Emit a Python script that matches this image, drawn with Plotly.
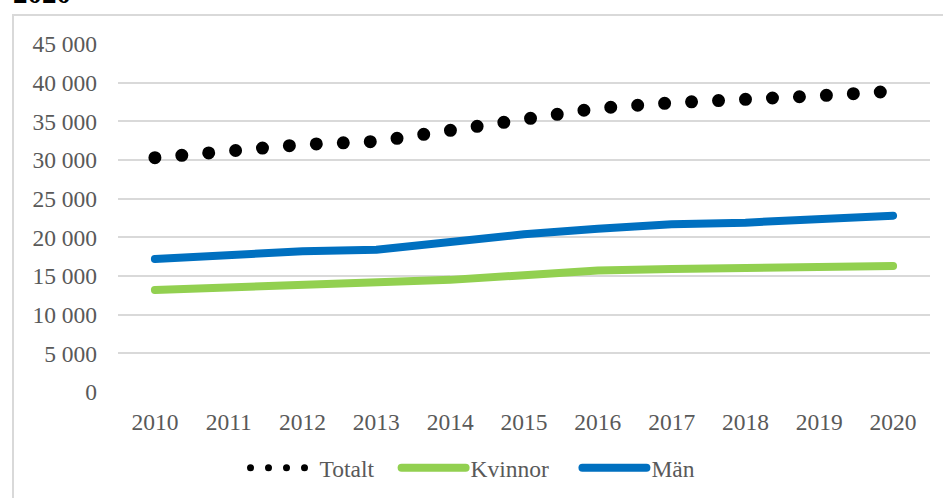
import plotly.graph_objects as go

years = ["2010", "2011", "2012", "2013", "2014", "2015", "2016", "2017", "2018", "2019", "2020"]
totalt = [30300, 31200, 32000, 32400, 33800, 35400, 36700, 37400, 37700, 38300, 38900]
kvinnor = [13200, 13500, 13800, 14000, 14500, 15100, 15700, 15900, 16000, 16100, 16300]
man = [17200, 17700, 18200, 18400, 19400, 20400, 21100, 21700, 21900, 22300, 22800]
y_ticks = [0, 5000, 10000, 15000, 20000, 25000, 30000, 35000, 40000, 45000]
NB = "\u00a0"

FONT = "Times New Roman, Liberation Serif, serif"
GREEN = "#92D050"
BLUE = "#0070C0"

fig = go.Figure()
# legend-only entry for Totalt (smaller dots as in the reference legend)
fig.add_trace(go.Scatter(x=[None], y=[None], mode="lines", name="Totalt" + NB * 3,
                         legendgroup="t",
                         line=dict(color="black", width=7, dash="0px,18px")))
fig.add_trace(go.Scatter(x=years, y=totalt, mode="lines", name="Totalt",
                         legendgroup="t", showlegend=False,
                         line=dict(color="black", width=13, dash="0px,27px")))
fig.add_trace(go.Scatter(x=years, y=kvinnor, mode="lines", name="Kvinnor" + NB * 4,
                         line=dict(color=GREEN, width=8)))
fig.add_trace(go.Scatter(x=years, y=man, mode="lines", name="Män",
                         line=dict(color=BLUE, width=8)))

L, T, W, H = 118, 44, 943, 498
PW, PH = W - L - 13, 348

fig.update_layout(
    width=W, height=H,
    margin=dict(l=L, r=13, t=T, b=H - T - PH, autoexpand=False),
    paper_bgcolor="white", plot_bgcolor="white",
    separators=", ",
    font=dict(family=FONT, size=23.5, color="#595959"),
    showlegend=True,
    legend=dict(orientation="h", xanchor="center", x=(473 - L) / PW,
                yanchor="middle", y=(T + PH - 468) / PH,
                itemwidth=64, font=dict(size=23.5, color="#595959"),
                bgcolor="rgba(0,0,0,0)"),
    xaxis=dict(type="category", range=[-0.5, 10.5], showgrid=False,
               showline=False, zeroline=False, ticks="",
               ticklabelstandoff=13, fixedrange=True),
    yaxis=dict(range=[0, 45000], tickvals=y_ticks, tickformat=",",
               showgrid=True, gridcolor="#d9d9d9", gridwidth=1.5,
               zeroline=False, showline=False, ticks="",
               ticklabelstandoff=20, fixedrange=True),
    shapes=[dict(type="rect", xref="paper", yref="paper",
                 x0=(13 - L) / PW, x1=1.2, y0=-0.5, y1=(T + PH - 15) / PH,
                 line=dict(color="#d9d9d9", width=2), fillcolor="rgba(0,0,0,0)",
                 layer="below")],
    annotations=[dict(text="<b>2020</b>", xref="paper", yref="paper",
                      x=(11 - L) / PW, xanchor="left",
                      y=(T + PH - 11) / PH, yanchor="bottom",
                      showarrow=False,
                      font=dict(family=FONT, size=29, color="black"))],
)

post = """
document.documentElement.style.margin='0';
document.body.style.margin='0';
document.body.style.padding='0';
var s=document.createElement('style');
s.innerHTML='path.js-line{stroke-linecap:round;stroke-linejoin:round;}';
document.head.appendChild(s);
"""
fig.write_html("out.html", post_script=post, config={"displayModeBar": False})
